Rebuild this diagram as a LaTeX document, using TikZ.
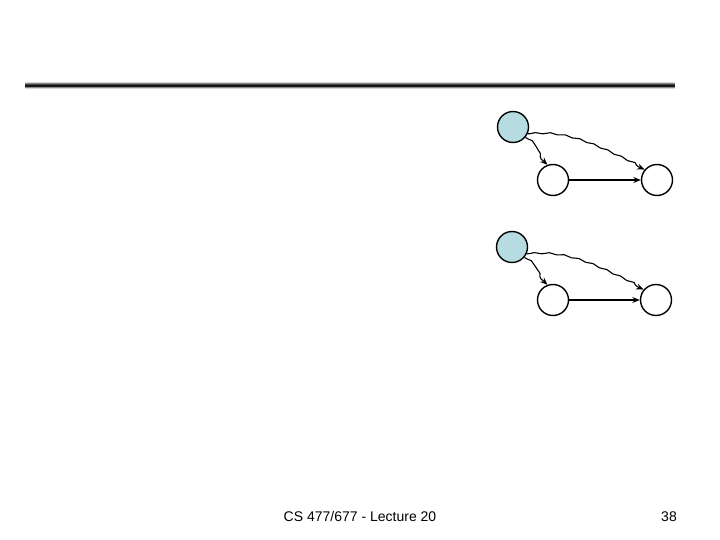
\documentclass[tikz,border=0pt]{standalone}
\usepackage{fontspec}
\setmainfont{Liberation Sans}
\usetikzlibrary{decorations.pathmorphing,arrows.meta}
\definecolor{nodeblue}{RGB}{182,220,226}
\tikzset{
  vtx/.style={circle,draw=black,line width=1.4pt,minimum size=31pt,inner sep=0pt},
  src/.style={vtx,fill=nodeblue},
  plain/.style={vtx,fill=white},
  edge/.style={line width=1.1pt,-{Stealth[length=7.5pt,width=6pt]}},
  wavy/.style={edge,decorate,decoration={snake,amplitude=0.7pt,segment length=15pt,post length=6pt,pre length=3pt}},
  footer/.style={font=\fontsize{14}{16}\selectfont,anchor=base}
}
\begin{document}
\begin{tikzpicture}[x=1pt,y=-1pt]
\useasboundingbox (0,0) rectangle (720,540);
% top bar
\draw[line width=7pt,black!15,line cap=butt] (25,86) -- (675,86);
\draw[line width=5pt,black!45,line cap=butt] (25,86) -- (675,86);
\draw[line width=3pt,black!75,line cap=butt] (25,86) -- (675,86);
\draw[line width=1.2pt,black!90,line cap=butt] (25,86) -- (675,86);
% diagram 1
\node[src] (a1) at (513,127) {};
\node[plain] (b1) at (553,180) {};
\node[plain] (c1) at (657,180) {};
\draw[wavy] (a1.-40) .. controls (540,145) and (530,150) .. (b1.110);
\draw[wavy] (a1.-25) .. controls (570,130) and (600,150) .. (c1.140);
\draw[edge] (b1) -- (c1);
% diagram 2
\node[src] (a2) at (512,247) {};
\node[plain] (b2) at (553,300) {};
\node[plain] (c2) at (656,300) {};
\draw[wavy] (a2.-40) .. controls (539,265) and (530,270) .. (b2.110);
\draw[wavy] (a2.-25) .. controls (570,250) and (600,270) .. (c2.140);
\draw[edge] (b2) -- (c2);
% footer
\node[footer] (t) at (360,521) {CS 477/677 - Lecture 20};
\node[footer] (p) at (669,521) {38};
\end{tikzpicture}
\end{document}
